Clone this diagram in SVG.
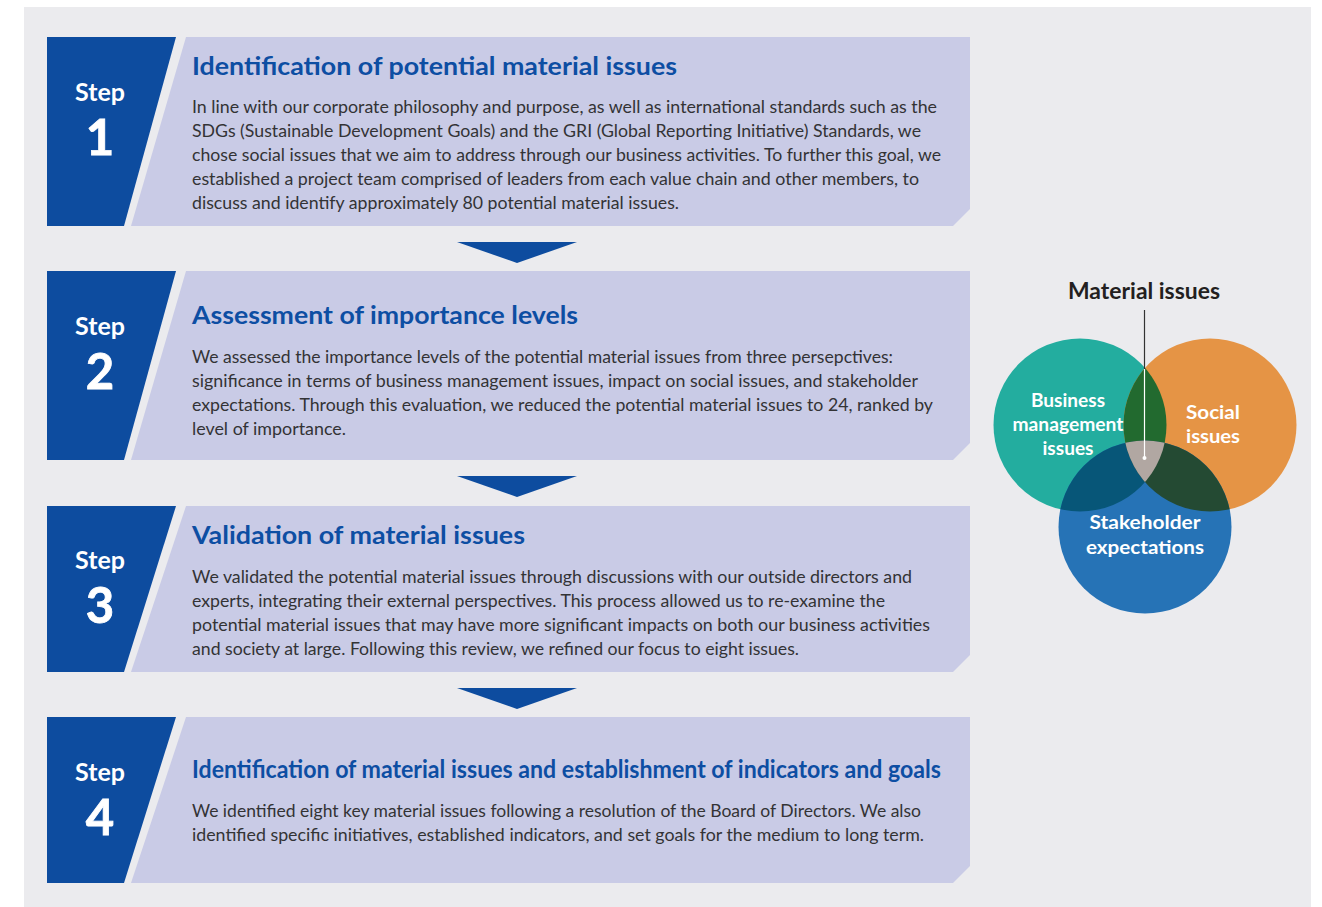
<svg xmlns="http://www.w3.org/2000/svg" width="1322" height="907" viewBox="0 0 1322 907">
  <style>
    .bg { fill: #ebebee; }
    .tab { fill: #0d4c9f; }
    .panel { fill: #c9cbe6; }
    .arrow { fill: #0d4c9f; }
    .step { font-family: Lato, "Liberation Sans", Arial, sans-serif; font-weight: 700; fill: #ffffff; text-anchor: middle; }
    .step-word { font-size: 25px; }
    .step-num { font-size: 49px; stroke: #ffffff; stroke-width: 0.8px; }
    .title { font-family: Lato, "Liberation Sans", Arial, sans-serif; font-weight: 700; font-size: 25px; fill: #0d4ea3; }
    .body { font-family: Lato, "Liberation Sans", Arial, sans-serif; font-size: 17px; fill: #333335; }
    .venn-label { font-family: Lato, "Liberation Sans", Arial, sans-serif; font-weight: 700; font-size: 19px; fill: #ffffff; text-anchor: middle; }
    .venn-title { font-family: Lato, "Liberation Sans", Arial, sans-serif; font-weight: 700; font-size: 22px; fill: #231f20; text-anchor: middle; }
  </style>
  <defs>
    <clipPath id="clip-business"><circle cx="1080" cy="425" r="86.5"/></clipPath>
    <clipPath id="clip-social"><circle cx="1210" cy="425" r="86.5"/></clipPath>
    <clipPath id="clip-stake"><circle cx="1145" cy="527" r="86.5"/></clipPath>
  </defs>

  <rect class="bg" x="24" y="7" width="1287" height="900"/>

  <!-- Step 1 -->
  <g id="step1">
    <polygon class="tab" points="47,37 176,37 124,226 47,226"/>
    <polygon class="panel" points="186,37 970,37 970,209 953,226 131,226"/>
    <text class="step step-word" x="100" y="101">Step</text>
    <text class="step step-num" x="100" y="155">1</text>
    <text class="title" x="192" y="75" textLength="485" lengthAdjust="spacingAndGlyphs">Identification of potential material issues</text>
    <text class="body" x="192" y="113" textLength="745" lengthAdjust="spacingAndGlyphs">In line with our corporate philosophy and purpose, as well as international standards such as the</text>
    <text class="body" x="192" y="137" textLength="729" lengthAdjust="spacingAndGlyphs">SDGs (Sustainable Development Goals) and the GRI (Global Reporting Initiative) Standards, we</text>
    <text class="body" x="192" y="161" textLength="749" lengthAdjust="spacingAndGlyphs">chose social issues that we aim to address through our business activities. To further this goal, we</text>
    <text class="body" x="192" y="185" textLength="727" lengthAdjust="spacingAndGlyphs">established a project team comprised of leaders from each value chain and other members, to</text>
    <text class="body" x="192" y="209" textLength="487" lengthAdjust="spacingAndGlyphs">discuss and identify approximately 80 potential material issues.</text>
  </g>

  <!-- Step 2 -->
  <g id="step2">
    <polygon class="tab" points="47,271 176,271 124,460 47,460"/>
    <polygon class="panel" points="186,271 970,271 970,443 953,460 131,460"/>
    <text class="step step-word" x="100" y="335">Step</text>
    <text class="step step-num" x="100" y="389">2</text>
    <text class="title" x="192" y="324" textLength="386" lengthAdjust="spacingAndGlyphs">Assessment of importance levels</text>
    <text class="body" x="192" y="363" textLength="701" lengthAdjust="spacingAndGlyphs">We assessed the importance levels of the potential material issues from three persepctives:</text>
    <text class="body" x="192" y="387" textLength="726" lengthAdjust="spacingAndGlyphs">significance in terms of business management issues, impact on social issues, and stakeholder</text>
    <text class="body" x="192" y="411" textLength="741" lengthAdjust="spacingAndGlyphs">expectations. Through this evaluation, we reduced the potential material issues to 24, ranked by</text>
    <text class="body" x="192" y="435" textLength="154" lengthAdjust="spacingAndGlyphs">level of importance.</text>
  </g>

  <!-- Step 3 -->
  <g id="step3">
    <polygon class="tab" points="47,506 176,506 124,672 47,672"/>
    <polygon class="panel" points="186,506 970,506 970,655 953,672 131,672"/>
    <text class="step step-word" x="100" y="569">Step</text>
    <text class="step step-num" x="100" y="623">3</text>
    <text class="title" x="192" y="544" textLength="333" lengthAdjust="spacingAndGlyphs">Validation of material issues</text>
    <text class="body" x="192" y="583" textLength="720" lengthAdjust="spacingAndGlyphs">We validated the potential material issues through discussions with our outside directors and</text>
    <text class="body" x="192" y="607" textLength="693" lengthAdjust="spacingAndGlyphs">experts, integrating their external perspectives. This process allowed us to re-examine the</text>
    <text class="body" x="192" y="631" textLength="738" lengthAdjust="spacingAndGlyphs">potential material issues that may have more significant impacts on both our business activities</text>
    <text class="body" x="192" y="655" textLength="607" lengthAdjust="spacingAndGlyphs">and society at large. Following this review, we refined our focus to eight issues.</text>
  </g>

  <!-- Step 4 -->
  <g id="step4">
    <polygon class="tab" points="47,717 176,717 124,883 47,883"/>
    <polygon class="panel" points="186,717 970,717 970,866 953,883 131,883"/>
    <text class="step step-word" x="100" y="781">Step</text>
    <text class="step step-num" x="100" y="835">4</text>
    <text class="title" x="192" y="778" textLength="749" lengthAdjust="spacingAndGlyphs">Identification of material issues and establishment of indicators and goals</text>
    <text class="body" x="192" y="817" textLength="729" lengthAdjust="spacingAndGlyphs">We identified eight key material issues following a resolution of the Board of Directors. We also</text>
    <text class="body" x="192" y="841" textLength="732" lengthAdjust="spacingAndGlyphs">identified specific initiatives, established indicators, and set goals for the medium to long term.</text>
  </g>

  <!-- Flow arrows between steps -->
  <g id="connectors">
    <polygon class="arrow" points="457,242 577,242 517,263"/>
    <polygon class="arrow" points="457,476 577,476 517,497"/>
    <polygon class="arrow" points="457,688 577,688 517,709"/>
  </g>

  <!-- Venn diagram of material issues -->
  <g id="venn">
    <circle cx="1080" cy="425" r="86.5" fill="#23ad9f"/>
    <circle cx="1210" cy="425" r="86.5" fill="#e59445"/>
    <circle cx="1145" cy="527" r="86.5" fill="#2673b6"/>
    <g clip-path="url(#clip-business)">
      <circle cx="1210" cy="425" r="86.5" fill="#226a2f"/>
      <circle cx="1145" cy="527" r="86.5" fill="#075678"/>
    </g>
    <g clip-path="url(#clip-social)">
      <circle cx="1145" cy="527" r="86.5" fill="#244a33"/>
    </g>
    <g clip-path="url(#clip-business)">
      <g clip-path="url(#clip-social)">
        <circle cx="1145" cy="527" r="86.5" fill="#b1a7a2"/>
      </g>
    </g>
    <text class="venn-label" x="1068" y="407" textLength="74" lengthAdjust="spacingAndGlyphs">Business</text>
    <text class="venn-label" x="1068" y="431" textLength="111" lengthAdjust="spacingAndGlyphs">management</text>
    <text class="venn-label" x="1068" y="455" textLength="51" lengthAdjust="spacingAndGlyphs">issues</text>
    <text class="venn-label" x="1213" y="419" textLength="54" lengthAdjust="spacingAndGlyphs">Social</text>
    <text class="venn-label" x="1213" y="443" textLength="54" lengthAdjust="spacingAndGlyphs">issues</text>
    <text class="venn-label" x="1145" y="529" textLength="111" lengthAdjust="spacingAndGlyphs">Stakeholder</text>
    <text class="venn-label" x="1145" y="554" textLength="118" lengthAdjust="spacingAndGlyphs">expectations</text>
  </g>

  <g id="material-issues">
    <text class="venn-title" x="1144" y="299" textLength="152" lengthAdjust="spacingAndGlyphs">Material issues</text>
    <line x1="1144.5" y1="310" x2="1144.5" y2="369" stroke="#333333" stroke-width="1.2"/>
    <line x1="1144.5" y1="369" x2="1144.5" y2="458" stroke="#ffffff" stroke-width="1.2"/>
    <circle cx="1144.5" cy="458" r="2" fill="#ffffff"/>
  </g>
</svg>
